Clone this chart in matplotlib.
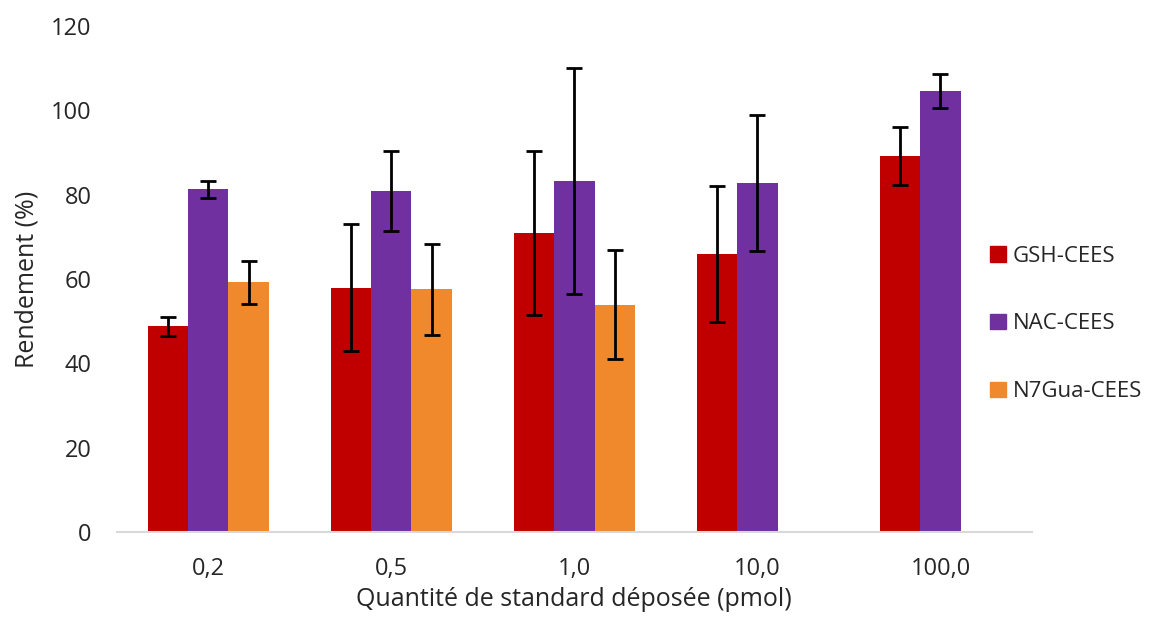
import numpy as np
import matplotlib.pyplot as plt
from matplotlib.patches import Patch

plt.rcParams['font.family'] = ['Open Sans', 'DejaVu Sans']

# Données
quantites = ['0,2', '0,5', '1,0', '10,0', '100,0']
series = ['GSH-CEES', 'NAC-CEES', 'N7Gua-CEES']
couleurs = ['#C00000', '#7030A0', '#F0892C']

gsh = [48.8, 58.0, 70.9, 66.0, 89.2]
gsh_err = [2.3, 15.0, 19.4, 16.2, 6.8]
nac = [81.3, 81.0, 83.2, 82.8, 104.7]
nac_err = [2.0, 9.5, 26.8, 16.2, 4.0]
n7gua = [59.2, 57.6, 53.9, np.nan, np.nan]
n7gua_err = [5.0, 10.8, 12.9, np.nan, np.nan]

valeurs = [gsh, nac, n7gua]
erreurs = [gsh_err, nac_err, n7gua_err]

txt = '#262626'

fig = plt.figure(figsize=(11.55, 6.23), dpi=100)
ax = fig.add_axes([0.101, 0.146, 0.7925, 0.812])

x = np.arange(len(quantites))
w = 0.221
for i, (vals, errs) in enumerate(zip(valeurs, erreurs)):
    ax.bar(x + (i - 1) * w, vals, w, yerr=errs, color=couleurs[i],
           error_kw=dict(ecolor='black', elinewidth=2, capsize=6, capthick=2))

ax.set_xlim(-0.5, len(quantites) - 0.5)
ax.set_ylim(0, 120)
ax.set_yticks(range(0, 121, 20))
ax.set_xticks(x)
ax.set_xticklabels(quantites)
ax.tick_params(length=0, labelsize=17, colors=txt)
ax.tick_params(axis='x', pad=18)
ax.tick_params(axis='y', pad=18)
for s in ['top', 'right', 'left']:
    ax.spines[s].set_visible(False)
ax.spines['bottom'].set_color('#D9D9D9')
ax.spines['bottom'].set_linewidth(1.5)

ax.set_xlabel('Quantité de standard déposée (pmol)', fontsize=18, color=txt, labelpad=4)
ax.set_ylabel('Rendement (%)', fontsize=18, color=txt, labelpad=8)

handles = [Patch(color=c, label=s) for c, s in zip(couleurs, series)]
fig.legend(handles=handles, loc='center left', bbox_to_anchor=(0.84, 0.48),
           frameon=False, fontsize=16, labelspacing=2.1, handlelength=0.7,
           handleheight=0.7, handletextpad=0.3, labelcolor=txt)

plt.savefig('out.png')
